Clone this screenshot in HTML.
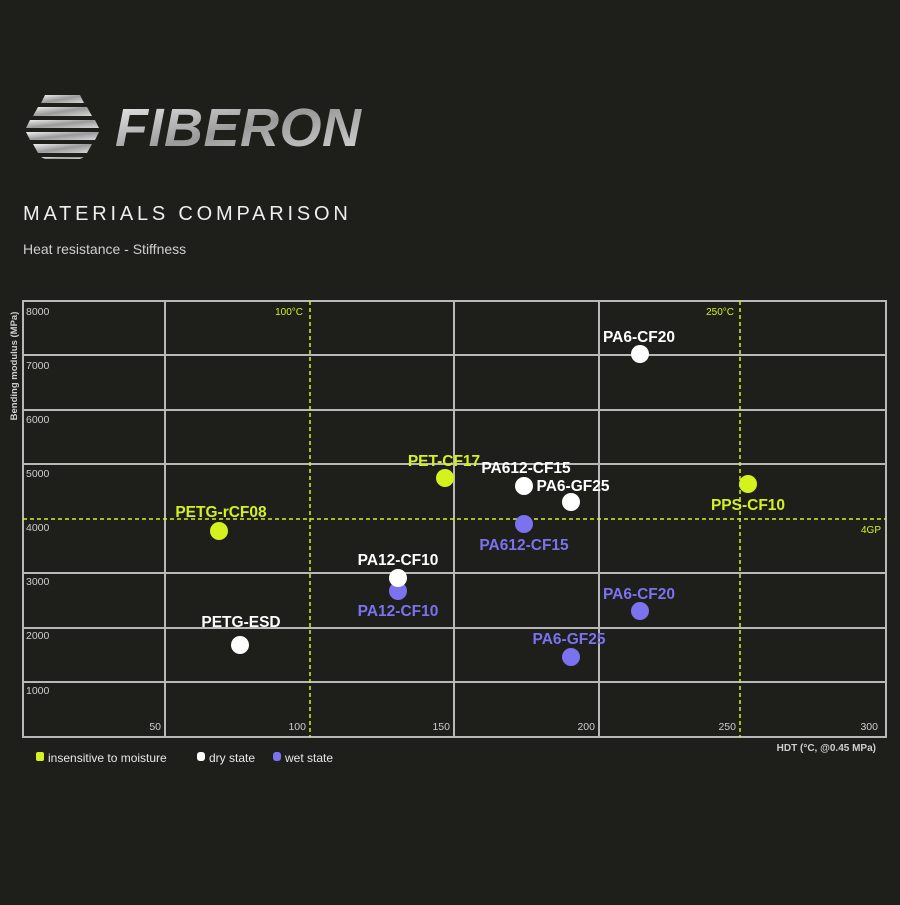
<!DOCTYPE html>
<html><head><meta charset="utf-8"><style>
body{margin:0;width:900px;height:900px;background:#1e1e1b;overflow:hidden;font-family:"Liberation Sans",sans-serif}
</style></head><body>
<svg width="900" height="900" xmlns="http://www.w3.org/2000/svg" font-family="Liberation Sans, sans-serif">
<defs><linearGradient id="g" x1="0" y1="0" x2="1" y2="1"><stop offset="0" stop-color="#f0f0f0"/><stop offset="0.5" stop-color="#9a9a9a"/><stop offset="1" stop-color="#d8d8d8"/></linearGradient></defs>
<rect width="900" height="900" fill="#1e1e1b"/>
<g fill="url(#g)">
<polygon points="45,95 80,95 84,103 41,103"/>
<polygon points="38,107 87,107 92,116 33,116"/>
<polygon points="30,120 95,120 99,128 26,128"/>
<polygon points="26,132 99,132 95,140 30,140"/>
<polygon points="33,144 92,144 87,153 38,153"/>
<polygon points="41,157 84,157 80,159 45,159"/>
</g>
<text x="115" y="146" font-size="54" font-weight="bold" font-style="italic" fill="url(#g)" letter-spacing="0.5">FIBERON</text>
<text x="23" y="220" font-size="20" fill="#eeeeee" letter-spacing="3.8">MATERIALS COMPARISON</text>
<text x="23" y="254" font-size="14" fill="#cfcfcf">Heat resistance - Stiffness</text>
<g stroke="#b8b8b8" stroke-width="2" fill="none">
<rect x="23" y="301" width="863" height="436"/>
<line x1="165" y1="301" x2="165" y2="737"/><line x1="454" y1="301" x2="454" y2="737"/><line x1="599" y1="301" x2="599" y2="737"/>
<line x1="23" y1="355" x2="886" y2="355"/><line x1="23" y1="410" x2="886" y2="410"/><line x1="23" y1="464" x2="886" y2="464"/>
<line x1="23" y1="573" x2="886" y2="573"/><line x1="23" y1="628" x2="886" y2="628"/><line x1="23" y1="682" x2="886" y2="682"/>
</g>
<g stroke="#d4f21e" stroke-width="1.5" stroke-dasharray="4,3">
<line x1="310" y1="301" x2="310" y2="737"/><line x1="740" y1="301" x2="740" y2="737"/><line x1="23" y1="519" x2="886" y2="519"/>
</g>
<g font-size="10.5" fill="#cfcfcf">
<text x="26" y="315">8000</text><text x="26" y="369">7000</text><text x="26" y="423">6000</text><text x="26" y="477">5000</text>
<text x="26" y="531">4000</text><text x="26" y="585">3000</text><text x="26" y="639">2000</text><text x="26" y="694">1000</text>
</g>
<g font-size="10.5" fill="#cfcfcf" text-anchor="end">
<text x="161" y="730">50</text><text x="306" y="730">100</text><text x="450" y="730">150</text><text x="595" y="730">200</text><text x="736" y="730">250</text><text x="878" y="730">300</text>
<text x="876" y="751" font-weight="bold" font-size="10">HDT (°C, @0.45 MPa)</text>
</g>
<g font-size="10" fill="#d4f21e" text-anchor="end"><text x="303" y="315">100°C</text><text x="734" y="315">250°C</text><text x="881" y="533">4GP</text></g>
<text transform="translate(17,366) rotate(-90)" font-size="9.5" font-weight="bold" fill="#cfcfcf" text-anchor="middle">Bending modulus (MPa)</text>
<g>
<circle cx="640" cy="354" r="9" fill="#fff"/><circle cx="445" cy="478" r="9" fill="#d4f21e"/>
<circle cx="524" cy="486" r="9" fill="#fff"/><circle cx="571" cy="502" r="9" fill="#fff"/>
<circle cx="748" cy="484" r="9" fill="#d4f21e"/><circle cx="219" cy="531" r="9" fill="#d4f21e"/>
<circle cx="524" cy="524" r="9" fill="#7b72f0"/><circle cx="398" cy="591" r="9" fill="#7b72f0"/>
<circle cx="398" cy="578" r="9" fill="#fff"/><circle cx="640" cy="611" r="9" fill="#7b72f0"/>
<circle cx="240" cy="645" r="9" fill="#fff"/><circle cx="571" cy="657" r="9" fill="#7b72f0"/>
</g>
<g font-size="15.5" font-weight="bold" text-anchor="middle">
<text x="639" y="342" fill="#fff">PA6-CF20</text>
<text x="444" y="466" fill="#d4f21e">PET-CF17</text>
<text x="526" y="473" fill="#fff">PA612-CF15</text>
<text x="573" y="491" fill="#fff">PA6-GF25</text>
<text x="748" y="510" fill="#d4f21e">PPS-CF10</text>
<text x="221" y="517" fill="#d4f21e">PETG-rCF08</text>
<text x="524" y="550" fill="#7b72f0">PA612-CF15</text>
<text x="398" y="565" fill="#fff">PA12-CF10</text>
<text x="398" y="616" fill="#7b72f0">PA12-CF10</text>
<text x="639" y="599" fill="#7b72f0">PA6-CF20</text>
<text x="241" y="627" fill="#fff">PETG-ESD</text>
<text x="569" y="644" fill="#7b72f0">PA6-GF25</text>
</g>
<rect x="36" y="752" width="8" height="9" rx="2" fill="#d4f21e"/>
<rect x="197" y="752" width="8" height="9" rx="3" fill="#fff"/>
<rect x="273" y="752" width="8" height="9" rx="3" fill="#7b72f0"/>
<g font-size="12" fill="#e8e8e8"><text x="48" y="762">insensitive to moisture</text><text x="209" y="762">dry state</text><text x="285" y="762">wet state</text></g>
</svg>
</body></html>
